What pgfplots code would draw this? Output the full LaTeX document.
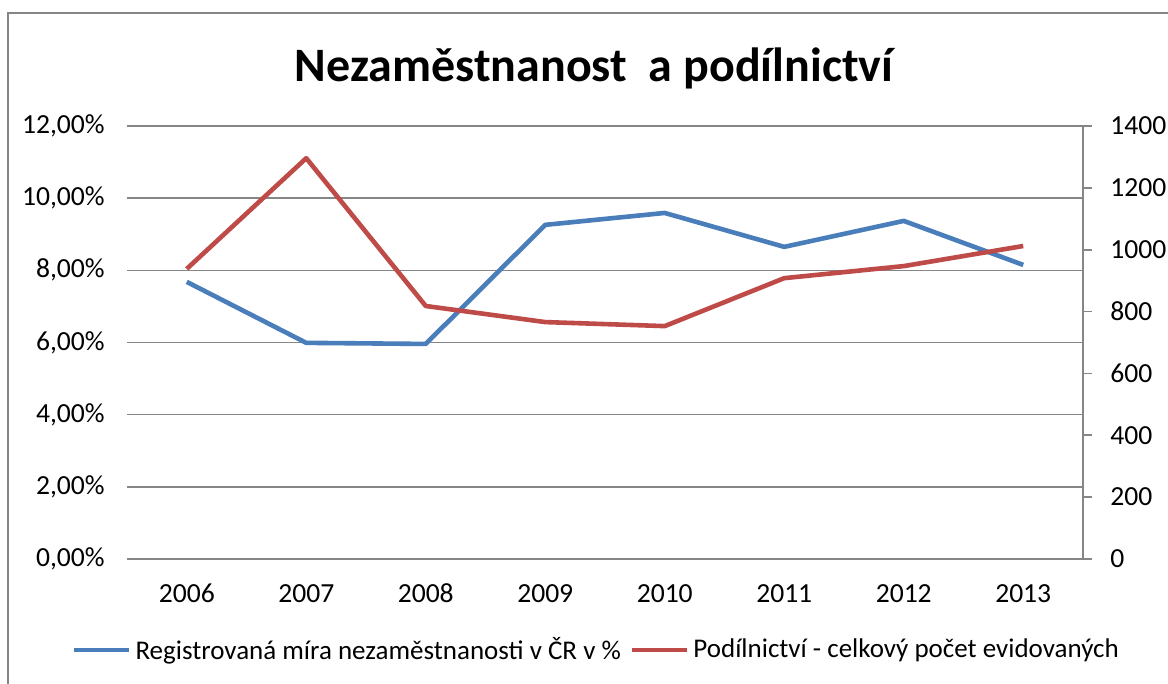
\documentclass[border=0pt]{standalone}
\usepackage{fontspec}
\setmainfont{Carlito}
\usepackage{pgfplots}
\pgfplotsset{compat=1.18}
\definecolor{sblue}{HTML}{4A7EBB}
\definecolor{sred}{HTML}{BE4B48}
\definecolor{agray}{HTML}{868686}
\begin{document}
\begin{tikzpicture}
\useasboundingbox (0,0) rectangle (584pt,342pt);
\draw[agray, line width=0.8pt] (4pt,-10pt) -- (4pt,335.5pt) -- (600pt,335.5pt);
\node[font=\fontsize{24}{28}\selectfont\bfseries] at (297pt,308pt) {Nezaměstnanost\ \ a podílnictví};
\pgfplotsset{every axis/.style={
  scale only axis, width=478pt, height=216.5pt,
  at={(63.5pt,62.5pt)}, anchor=south west,
  xmin=-0.5, xmax=7.5,
  tick label style={font=\fontsize{13.8}{16}\selectfont},
}}
\begin{axis}[
  ymin=0, ymax=12,
  ytick={0,2,4,6,8,10,12},
  yticklabels={{0,00\%},{2,00\%},{4,00\%},{6,00\%},{8,00\%},{10,00\%},{12,00\%}},
  xtick={0,...,7},
  xticklabels={2006,2007,2008,2009,2010,2011,2012,2013},
  axis x line*=bottom, axis y line*=left,
  x axis line style={agray, line width=0.8pt},
  y axis line style={draw=none},
  major tick length=0pt,
  tick style={draw=none},
  ymajorgrids, major grid style={agray, line width=0.8pt},
  yticklabel style={inner sep=0pt, xshift=-11pt},
  xticklabel style={inner sep=0pt, text height=8.8pt, text depth=0pt, anchor=north, yshift=-13pt},
]
\addplot[sblue, line width=2.3pt, line join=round] coordinates {
 (0,7.68) (1,5.99) (2,5.96) (3,9.26) (4,9.59) (5,8.65) (6,9.37) (7,8.15)};
\end{axis}
\begin{axis}[
  ymin=0, ymax=1400,
  ytick={0,200,...,1400},
  axis y line*=right, axis x line=none,
  y axis line style={agray, line width=0.8pt},
  ytick style={agray, line width=0.8pt},
  tick align=outside, major tick length=4.5pt,
  /pgf/number format/assume math mode=true,
  /pgf/number format/1000 sep={},
  yticklabel style={inner sep=0pt, xshift=9pt},
  legend columns=2,
  legend style={draw=none, fill=none, at={(0.492,-0.21)}, anchor=center,
    font=\fontsize{13.5}{16}\selectfont, inner sep=0pt,
    /tikz/every even column/.append style={column sep=2.5pt}},
  legend image code/.code={\draw[#1] (0pt,0pt) -- (27.5pt,0pt);},
  legend cell align=left,
]
\addlegendimage{sblue, line width=2.3pt}
\addlegendentry{Registrovaná míra nezaměstnanosti v ČR v \%}
\addplot[sred, line width=2.3pt, line join=round] coordinates {
 (0,938) (1,1296) (2,818) (3,766) (4,753) (5,908) (6,947) (7,1012)};
\addlegendentry{Podílnictví - celkový počet evidovaných}
\end{axis}
\end{tikzpicture}
\end{document}
